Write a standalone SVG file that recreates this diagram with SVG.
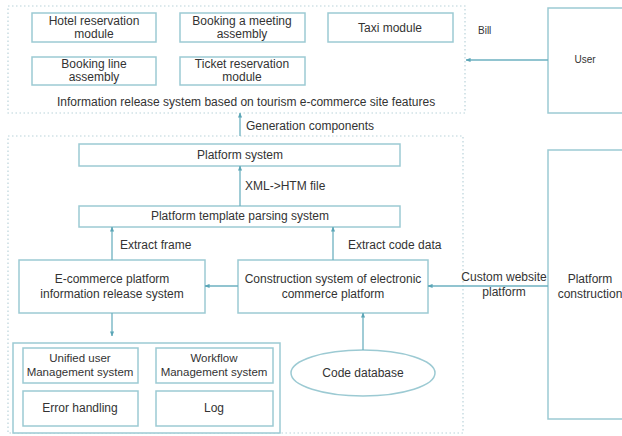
<svg xmlns="http://www.w3.org/2000/svg" width="622" height="436" viewBox="0 0 622 436">
<style>
.box{fill:#fff;stroke:#9ccad3;stroke-width:1.5}
.grp{fill:none;stroke:#b9d3da;stroke-width:1.2;stroke-dasharray:1.5 2.5}
.t{font-family:"Liberation Sans",Arial,sans-serif;font-size:12px;fill:#333;text-anchor:middle}
.l{font-family:"Liberation Sans",Arial,sans-serif;font-size:12px;fill:#333}
.c{stroke:#6db1c0;stroke-width:1.3;fill:none;marker-end:url(#a)}
</style>
<defs>
<marker id="a" viewBox="0 0 6 6" refX="5.5" refY="3" markerWidth="5" markerHeight="5" orient="auto" markerUnits="userSpaceOnUse">
<path d="M0,0.5 L6,3 L0,5.5 Z" fill="#5aa5b6"/>
</marker>
</defs>
<rect width="622" height="436" fill="#fff"/>
<g id="top-group">
<rect class="grp" x="8" y="6" width="457" height="107"/>
<text class="l" x="57" y="106">Information release system based on tourism e-commerce site features</text>
</g>
<g id="hotel"><rect class="box" x="32" y="13" width="124" height="29"/><text class="t" x="94" y="25">Hotel reservation</text><text class="t" x="94" y="38">module</text></g>
<g id="meeting"><rect class="box" x="180" y="13" width="125" height="29"/><text class="t" x="242" y="25">Booking a meeting</text><text class="t" x="242" y="38">assembly</text></g>
<g id="taxi"><rect class="box" x="328" y="13" width="125" height="29"/><text class="t" x="390" y="32">Taxi module</text></g>
<g id="line"><rect class="box" x="32" y="57" width="124" height="28"/><text class="t" x="94" y="68">Booking line</text><text class="t" x="94" y="81">assembly</text></g>
<g id="ticket"><rect class="box" x="180" y="57" width="125" height="28"/><text class="t" x="242" y="68">Ticket reservation</text><text class="t" x="242" y="81">module</text></g>
<g id="user"><rect class="box" x="548" y="8" width="80" height="105"/><text class="t" x="585" y="63" style="font-size:10px">User</text></g>
<g id="bottom-group"><rect class="grp" x="8" y="136" width="455" height="297"/></g>
<g id="platform-system"><rect class="box" x="79" y="144" width="321" height="22"/><text class="t" x="240" y="159">Platform system</text></g>
<g id="template"><rect class="box" x="79" y="206" width="321" height="21"/><text class="t" x="240" y="220">Platform template parsing system</text></g>
<g id="ecommerce"><rect class="box" x="19" y="260" width="186" height="53"/><text class="t" x="112" y="283">E-commerce platform</text><text class="t" x="112" y="298">information release system</text></g>
<g id="construction"><rect class="box" x="238" y="260" width="190" height="53"/><text class="t" x="333" y="283">Construction system of electronic</text><text class="t" x="333" y="298">commerce platform</text></g>
<g id="mgmt-group"><rect class="box" x="13" y="343" width="267" height="90"/></g>
<g id="unified"><rect class="box" x="23" y="348" width="115" height="35"/><text class="t" x="80" y="362" style="font-size:11.5px">Unified user</text><text class="t" x="80" y="376" style="font-size:11.5px">Management system</text></g>
<g id="workflow"><rect class="box" x="156" y="348" width="117" height="35"/><text class="t" x="214" y="362" style="font-size:11.5px">Workflow</text><text class="t" x="214" y="376" style="font-size:11.5px">Management system</text></g>
<g id="error"><rect class="box" x="23" y="391" width="115" height="35"/><text class="t" x="80" y="412">Error handling</text></g>
<g id="log"><rect class="box" x="156" y="391" width="117" height="35"/><text class="t" x="214" y="412">Log</text></g>
<g id="codedb"><ellipse class="box" cx="363" cy="373" rx="72" ry="23"/><text class="t" x="363" y="377">Code database</text></g>
<g id="platform-construction"><rect class="box" x="548" y="150" width="80" height="269"/><text class="t" x="590" y="283">Platform</text><text class="t" x="590" y="298">construction</text></g>
<g id="connectors">
<line class="c" x1="548" y1="60" x2="466" y2="60"/>
<text class="l" x="478" y="34" style="font-size:10px">Bill</text>
<line class="c" x1="240" y1="136" x2="240" y2="113"/>
<text class="l" x="246" y="130">Generation components</text>
<line class="c" x1="240" y1="206" x2="240" y2="166"/>
<text class="l" x="245" y="190">XML-&gt;HTM file</text>
<line class="c" x1="112" y1="260" x2="112" y2="227"/>
<text class="l" x="120" y="249">Extract frame</text>
<line class="c" x1="333" y1="260" x2="333" y2="227"/>
<text class="l" x="348" y="249">Extract code data</text>
<line class="c" x1="238" y1="286" x2="205" y2="286"/>
<line class="c" x1="548" y1="286" x2="428" y2="286"/>
<text class="t" x="504" y="281">Custom website</text>
<text class="t" x="504" y="296">platform</text>
<line class="c" x1="112" y1="313" x2="112" y2="336"/>
<line class="c" x1="363" y1="350" x2="363" y2="313"/>
</g>
</svg>
